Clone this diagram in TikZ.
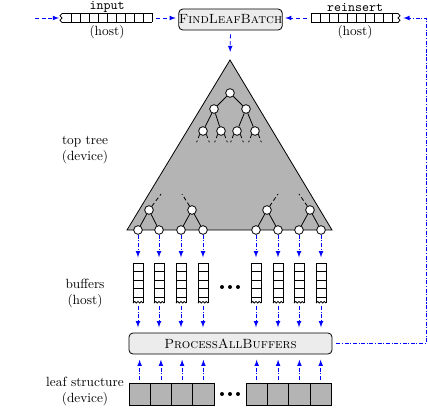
\documentclass[tikz,border=0pt]{standalone}
\usepackage{amsmath}
\usepackage{amssymb}
\usepackage{tikz}
\usetikzlibrary{arrows,positioning}

\definecolor{treegray}{RGB}{180,180,180}
\definecolor{boxgray}{RGB}{236,236,236}

\begin{document}
\begin{tikzpicture}[x=0.75pt,y=-0.75pt,line width=0.6pt,>=latex]
  \tikzstyle{tnode}=[circle,draw,fill=white,inner sep=0pt,minimum size=6.5pt]
  \tikzstyle{flow}=[->,blue,densely dashed,shorten >=2pt]
  \tikzstyle{flowdot}=[->,blue,dash pattern=on 3pt off 1.2pt on 0.8pt off 1.2pt,shorten >=4pt]
  \tikzstyle{proc}=[draw,rounded corners=3pt,fill=boxgray,minimum height=15.75pt,inner sep=0pt]
  \tikzstyle{hostarr}=[inner sep=0pt,minimum height=6.75pt]
  \tikzstyle{leafcell}=[draw,fill=treegray,minimum width=16pt,minimum height=16.5pt,inner sep=0pt]
  \tikzstyle{side}=[align=center]

  \useasboundingbox (0,0) rectangle (428,410);

  % host arrays on top
  \node[hostarr,minimum width=67.5pt,
        label={[inner sep=0.5pt]above:\texttt{input}},label={[inner sep=1.5pt]below:(host)}]
    (input) at (107,18) {};
  \node[hostarr,minimum width=66pt,
        label={[inner sep=0.5pt]above:\texttt{reinsert}},label={[inner sep=1.5pt]below:(host)}]
    (reinsert) at (355,18) {};
  \draw (62,13.5) -- (152,13.5) (62,22.5) -- (152,22.5);
  \foreach \x in {71,80,...,152} \draw (\x,13.5) -- (\x,22.5);
  \draw (62,13.5) -- (60,15.8) -- (62,18) -- (60,20.2) -- (62,22.5);
  \draw (311,13.5) -- (398,13.5) (311,22.5) -- (398,22.5);
  \foreach \x in {311,320,...,392} \draw (\x,13.5) -- (\x,22.5);
  \draw (398,13.5) -- (400,15.8) -- (398,18) -- (400,20.2) -- (398,22.5);

  \node[proc,minimum width=75.75pt] (flb) at (230.5,19.5) {\textsc{FindLeafBatch}};

  % top tree
  \coordinate (apex) at (230,60);
  \coordinate (base_l) at (127,230);
  \coordinate (base_r) at (332,230);
  \draw[fill=treegray] (apex) -- (base_l) -- (base_r) -- cycle;

  \node[tnode] (t_0) at (230,93)  {};
  \node[tnode] (t_1) at (214,109) {};
  \node[tnode] (t_2) at (246,109) {};
  \node[tnode] (t_3) at (203,131) {};
  \node[tnode] (t_4) at (221,131) {};
  \node[tnode] (t_5) at (237,131) {};
  \node[tnode] (t_6) at (255,131) {};
  \draw (t_0) -- (t_1) (t_0) -- (t_2)
        (t_1) -- (t_3) (t_1) -- (t_4)
        (t_2) -- (t_5) (t_2) -- (t_6);
  \foreach \n in {3,...,6}
    \draw[densely dashed] (t_\n.south west) -- +(-3,8) (t_\n.south east) -- +(3,8);

  \foreach \i/\x in {1/138,2/159,3/181,4/203,5/256,6/278,7/299,8/321}
    \node[tnode] (l_\i) at (\x,230) {};
  \node[tnode] (p_1) at (149,210) {};
  \node[tnode] (p_2) at (192,210) {};
  \node[tnode] (p_3) at (267,210) {};
  \node[tnode] (p_4) at (310,210) {};
  \draw (p_1) -- (l_1) (p_1) -- (l_2) (p_2) -- (l_3) (p_2) -- (l_4)
        (p_3) -- (l_5) (p_3) -- (l_6) (p_4) -- (l_7) (p_4) -- (l_8);
  \draw[densely dashed] (p_1) -- (161,194) (p_2) -- (182,194)
                        (p_3) -- (278,194) (p_4) -- (299,194);

  % buffers
  \foreach \i/\x in {1/138,2/159,3/181,4/203,5/256,6/278,7/299,8/321} {
    \node[inner sep=0pt,minimum width=7.5pt,minimum height=30pt] (b_\i) at (\x,283) {};
    \draw (\x-5,303) -- (\x-5,263) -- (\x+5,263) -- (\x+5,303);
    \foreach \y in {271.5,280,288.5,297} \draw (\x-5,\y) -- (\x+5,\y);
    \draw (\x-5,303) -- (\x-3.3,301.5) -- (\x-1.7,303) -- (\x,301.5)
          -- (\x+1.7,303) -- (\x+3.3,301.5) -- (\x+5,303);
    \draw[flowdot] (l_\i) -- (b_\i);
  }
  \foreach \x in {222,230,238} \fill (\x,287) circle (1.5pt);

  \node[proc,minimum width=152.25pt] (pab) at (230.5,343.5) {\textsc{ProcessAllBuffers}};
  \foreach \i in {1,...,8}
    \draw[flowdot,shorten <=2pt] (b_\i.south) -- (b_\i.south |- pab.north);

  % leaf structure
  \foreach \i/\x in {1/139.6,2/160.9,3/182.1,4/203.4,5/256.7,6/278.1,7/299.4,8/320.7} {
    \node[leafcell] (c_\i) at (\x,394) {};
    \draw[flowdot,shorten <=2pt] (c_\i.north) -- (c_\i.north |- pab.south);
  }
  \foreach \x in {222,230,238} \fill (\x,394) circle (1.5pt);

  % arrows on top
  \coordinate (in_src) at (35,18);
  \draw[flow] (in_src) -- (input.west);
  \draw[flow,shorten <=3pt] (input.east) -- (input.east -| flb.west);
  \draw[flow,shorten <=3pt] (reinsert.west) -- (reinsert.west -| flb.east);
  \draw[flow,shorten <=3pt,shorten >=6pt] (flb.south) -- (apex);

  % feedback
  \coordinate (fb_b) at (426,343.5);
  \coordinate (fb_t) at (426,18);
  \draw[flowdot,shorten <=3pt,shorten >=3pt] (pab.east) -- (fb_b) -- (fb_t) -- (reinsert.east);

  % labels on the left
  \node[side] (lbl_top)  at (85,150) {top tree\\(device)};
  \node[side] (lbl_buf)  at (85,293) {buffers\\(host)};
  \node[side] (lbl_leaf) at (85,391) {leaf structure\\(device)};
\end{tikzpicture}
\end{document}
